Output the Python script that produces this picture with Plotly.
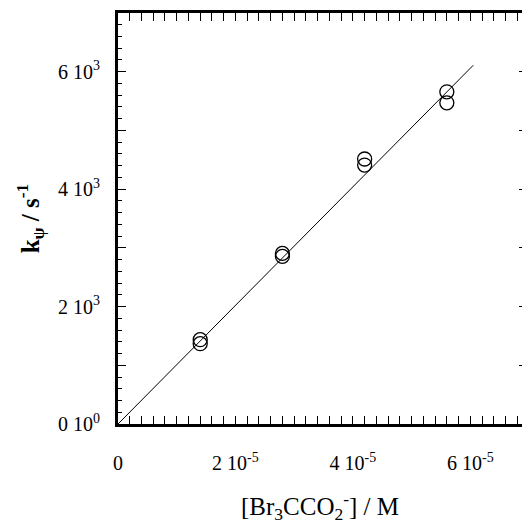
import plotly.graph_objects as go

# data
conc = [1.4e-5, 1.4e-5, 2.8e-5, 2.8e-5, 4.2e-5, 4.2e-5, 5.6e-5, 5.6e-5]
k_obs = [1436, 1368, 2906, 2855, 4513, 4410, 5658, 5470]
fit_x = [0.0, 6.05e-5]
fit_y = [0.0, 6110]

x_tickvals = [0, 1e-5, 2e-5, 3e-5, 4e-5, 5e-5, 6e-5, 7e-5]
x_ticktext = ["0", "", "2 10<sup>-5</sup>", "", "4 10<sup>-5</sup>", "", "6 10<sup>-5</sup>", ""]
y_tickvals = [0, 1000, 2000, 3000, 4000, 5000, 6000, 7000]
y_ticktext = ["0 10<sup>0</sup>", "", "2 10<sup>3</sup>", "", "4 10<sup>3</sup>", "", "6 10<sup>3</sup>", ""]

FONT = "Liberation Serif, Times New Roman, serif"

fig = go.Figure()
fig.add_trace(go.Scatter(x=fit_x, y=fit_y, mode="lines",
                         line=dict(color="black", width=1), showlegend=False))
fig.add_trace(go.Scatter(x=conc, y=k_obs, mode="markers",
                         marker=dict(symbol="circle-open", size=14, color="black",
                                     line=dict(width=1.3, color="black")),
                         showlegend=False))
# right-side tick marks only
fig.add_trace(go.Scatter(x=[None], y=[None], yaxis="y2", showlegend=False))

fig.update_layout(
    width=522, height=526,
    margin=dict(l=118, r=0, t=13, b=102),
    paper_bgcolor="white", plot_bgcolor="white",
    font=dict(family=FONT, color="black", size=20),
    xaxis=dict(range=[0, 6.88e-5], tickmode="array", tickvals=x_tickvals, ticktext=x_ticktext,
               ticks="inside", ticklen=8, tickwidth=1.3, tickcolor="black",
               minor=dict(ticks="inside", ticklen=4, tickwidth=1, tickcolor="black", dtick=2e-6, tick0=0),
               showline=True, linewidth=3, linecolor="black", mirror="allticks",
               showgrid=False, zeroline=False, ticklabelstandoff=19,
               tickfont=dict(size=20),
               title=dict(text="[Br<sub>3</sub>CCO<sub>2</sub><sup>-</sup>] / M",
                          font=dict(size=25), standoff=25)),
    yaxis=dict(range=[0, 7000], tickmode="array", tickvals=y_tickvals, ticktext=y_ticktext,
               ticks="inside", ticklen=8, tickwidth=1.3, tickcolor="black",
               minor=dict(ticks="inside", ticklen=4, tickwidth=1, tickcolor="black", dtick=200, tick0=0),
               showline=True, linewidth=3, linecolor="black", mirror=False,
               showgrid=False, zeroline=False, ticklabelstandoff=11,
               tickfont=dict(size=20),
               title=dict(text="<b>k<sub>ψ</sub> / s<sup>-1</sup></b>",
                          font=dict(size=25), standoff=12)),
    yaxis2=dict(range=[0, 7000], overlaying="y", side="right", tickmode="array",
                tickvals=y_tickvals, ticktext=[""] * len(y_tickvals),
                ticks="inside", ticklen=3, tickwidth=1.3, tickcolor="black",
                showline=False, showgrid=False, zeroline=False),
)

fig.write_html("out.html", config={"displayModeBar": False},
               post_script="document.body.style.margin='0';document.body.style.overflow='hidden';")
